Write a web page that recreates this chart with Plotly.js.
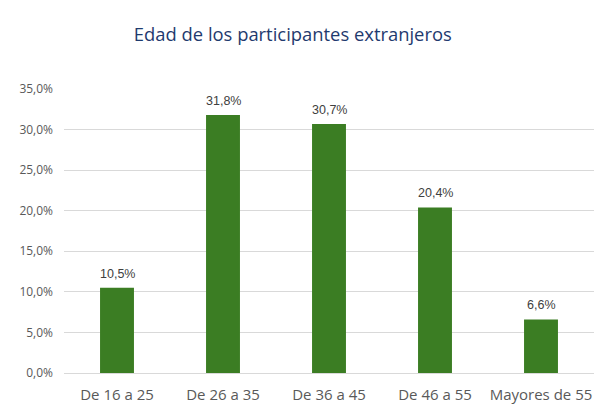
<!DOCTYPE html>
<html>
<head>
<meta charset="utf-8">
<script src="https://cdn.plot.ly/plotly-3.0.1.min.js"></script>
<style>
  html, body { margin: 0; padding: 0; background: #fff; }
  #plot { width: 610px; height: 410px; }
</style>
</head>
<body>
<div id="plot"></div>
<script>
// categories and values
var categories = ["De 16 a 25", "De 26 a 35", "De 36 a 45", "De 46 a 55", "Mayores de 55"];
var values = [10.5, 31.8, 30.7, 20.4, 6.6];
var tickVals = [0, 5, 10, 15, 20, 25, 30, 35];
var tickText = ["0,0%", "5,0%", "10,0%", "15,0%", "20,0%", "25,0%", "30,0%", "35,0%"];

var trace1 = {
    x: categories,
    y: values,
    type: "bar",
    width: 0.32,
    marker: { color: "#3B7D23" },
    hoverinfo: "none"
};

var data = [trace1];

// value labels sit a bit higher above the bars than plotly's "outside" text
var labels = categories.map((c, i) => ({
    x: c,
    y: values[i],
    text: values[i].toFixed(1).replace(".", ",") + "%",
    showarrow: false,
    yanchor: "bottom",
    yshift: 5,
    font: { family: "Liberation Sans, Arial, sans-serif", size: 12.5, color: "#404040" }
}));

var layout = {
    width: 610,
    height: 410,
    margin: { l: 64, r: 16, t: 89, b: 37 },
    paper_bgcolor: "#ffffff",
    plot_bgcolor: "#ffffff",
    showlegend: false,
    annotations: labels,
    title: {
        text: "Edad de los participantes extranjeros",
        font: { family: "Open Sans, Calibri, sans-serif", size: 18.4, color: "#1F3A6E" },
        x: 0.48,
        xanchor: "center",
        y: 0.915,
        yanchor: "middle"
    },
    xaxis: {
        tickfont: { family: "Open Sans, Calibri, sans-serif", size: 15, color: "#595959" },
        showline: false,
        ticks: "",
        ticklabelstandoff: 11
    },
    yaxis: {
        range: [0, 35],
        tickvals: tickVals,
        ticktext: tickText,
        tickfont: { family: "Open Sans, Calibri, sans-serif", size: 12, color: "#595959" },
        showgrid: true,
        gridcolor: "#D9D9D9",
        gridwidth: 1,
        zeroline: true,
        zerolinecolor: "#D9D9D9",
        zerolinewidth: 1,
        ticks: "",
        ticklabelstandoff: 10
    }
};

Plotly.newPlot("plot", data, layout, { displayModeBar: false, staticPlot: true });
</script>
</body>
</html>
